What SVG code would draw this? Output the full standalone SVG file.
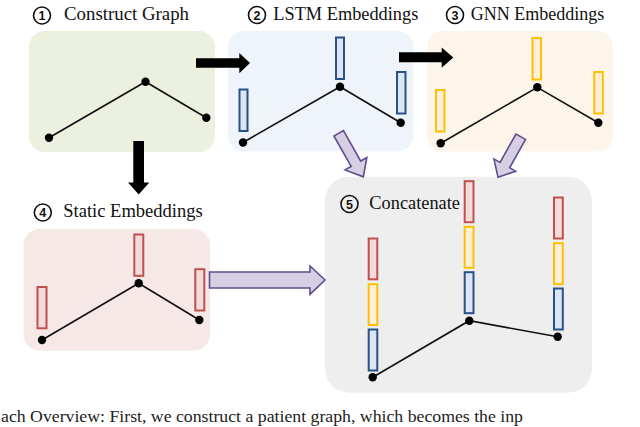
<svg xmlns="http://www.w3.org/2000/svg" width="640" height="427" viewBox="0 0 640 427">
<style>
.lbl{font-family:"Liberation Serif","Times New Roman",serif;font-size:18px;fill:#111}
.num{font-family:"Liberation Sans",Arial,sans-serif;font-size:12.5px;font-weight:bold;fill:#111;text-anchor:middle}
.circ{fill:none;stroke:#111;stroke-width:1.6}
.edge{stroke:#111;stroke-width:1.6;fill:none}
.node{fill:#000}
.red{fill:#f2dcdb;stroke:#c0504d;stroke-width:2}
.yel{fill:#fdefdc;stroke:#ffc000;stroke-width:2}
.blu{fill:#dce6f2;stroke:#2a5088;stroke-width:2}
.blk{fill:#000}
.pur{fill:#d6cfe3;stroke:#5e4c8c;stroke-width:1.6;stroke-linejoin:miter}
.cap{font-family:"Liberation Serif","Times New Roman",serif;font-size:16px;fill:#222}
</style>
<defs>
<path id="parrow" d="M0,-5.5 L35,-5.5 L35,-12.5 L50,0 L35,12.5 L35,5.5 L0,5.5 Z"/>
</defs>

<g id="node1">
<rect x="29" y="31" width="186" height="121" rx="16" fill="#ebf1de"/>
<circle class="circ" cx="42" cy="15.5" r="8.5"/>
<text class="num" x="42" y="20">1</text>
<text class="lbl" x="64" y="20" textLength="125" lengthAdjust="spacingAndGlyphs">Construct Graph</text>
<polyline class="edge" points="49,137.7 145.5,81.7 206.3,117.7"/>
<circle class="node" cx="49" cy="137.7" r="4.2"/>
<circle class="node" cx="145.5" cy="81.7" r="4.2"/>
<circle class="node" cx="206.3" cy="117.7" r="4.2"/>
</g>

<g id="node2">
<rect x="228" y="31" width="185.5" height="120.5" rx="16" fill="#eff3fa"/>
<circle class="circ" cx="257" cy="15" r="8.5"/>
<text class="num" x="257" y="19.5">2</text>
<text class="lbl" x="273.3" y="20" textLength="145" lengthAdjust="spacingAndGlyphs">LSTM Embeddings</text>
<polyline class="edge" points="243,142.5 340,86.7 400.7,122.7"/>
<rect class="blu" x="239.5" y="89.5" width="8" height="41.5"/>
<rect class="blu" x="336" y="37.5" width="8" height="41.5"/>
<rect class="blu" x="397" y="72" width="8.5" height="41.5"/>
<circle class="node" cx="243" cy="142.5" r="4.2"/>
<circle class="node" cx="340" cy="86.7" r="4.2"/>
<circle class="node" cx="400.7" cy="122.7" r="4.2"/>
</g>

<g id="node3">
<rect x="427" y="31" width="186" height="120.5" rx="16" fill="#fdf4ea"/>
<circle class="circ" cx="455" cy="15" r="8.5"/>
<text class="num" x="455" y="19.5">3</text>
<text class="lbl" x="470.7" y="20" textLength="133.6" lengthAdjust="spacingAndGlyphs">GNN Embeddings</text>
<polyline class="edge" points="440.7,143.3 537.3,87.3 598.3,122.7"/>
<rect class="yel" x="436" y="90" width="8.5" height="41.5"/>
<rect class="yel" x="532.5" y="38" width="8.5" height="41.5"/>
<rect class="yel" x="594.3" y="72" width="8.5" height="41.5"/>
<circle class="node" cx="440.7" cy="143.3" r="4.2"/>
<circle class="node" cx="537.3" cy="87.3" r="4.2"/>
<circle class="node" cx="598.3" cy="122.7" r="4.2"/>
</g>

<g id="node4">
<rect x="23.5" y="229" width="186.5" height="121.5" rx="16" fill="#f7e8e8"/>
<circle class="circ" cx="42.8" cy="212.5" r="8.5"/>
<text class="num" x="42.8" y="217">4</text>
<text class="lbl" x="63.3" y="217.3" textLength="139.4" lengthAdjust="spacingAndGlyphs">Static Embeddings</text>
<polyline class="edge" points="42,340 138.7,283.3 199.3,320"/>
<rect class="red" x="37.5" y="287" width="9" height="41.3"/>
<rect class="red" x="134.3" y="234.5" width="9" height="41.3"/>
<rect class="red" x="195.3" y="269.2" width="9" height="41.3"/>
<circle class="node" cx="42" cy="340" r="4.2"/>
<circle class="node" cx="138.7" cy="283.3" r="4.2"/>
<circle class="node" cx="199.3" cy="320" r="4.2"/>
</g>

<g id="node5">
<rect x="325" y="176.7" width="267" height="216" rx="24" fill="#eeeeee"/>
<circle class="circ" cx="349.5" cy="204" r="8.5"/>
<text class="num" x="349.5" y="208.5">5</text>
<text class="lbl" x="369.3" y="209.3" textLength="90.7" lengthAdjust="spacingAndGlyphs">Concatenate</text>
<polyline class="edge" points="372.7,377.3 469.3,320.7 557.7,336.7"/>
<rect class="red" x="368.7" y="238.5" width="8.6" height="40.8"/>
<rect class="yel" x="368.7" y="284.2" width="8.6" height="40.8"/>
<rect class="blu" x="368.7" y="329.5" width="8.6" height="41"/>
<rect class="red" x="464.7" y="181.2" width="8.8" height="41"/>
<rect class="yel" x="464.7" y="226.8" width="8.8" height="41"/>
<rect class="blu" x="464.7" y="272.2" width="8.8" height="41"/>
<rect class="red" x="554" y="197.5" width="8.8" height="41"/>
<rect class="yel" x="554" y="243.2" width="8.8" height="41"/>
<rect class="blu" x="554" y="288.5" width="8.8" height="41"/>
<circle class="node" cx="372.7" cy="377.3" r="4.2"/>
<circle class="node" cx="469.3" cy="320.7" r="4.2"/>
<circle class="node" cx="557.7" cy="336.7" r="4.2"/>
</g>

<g id="connectors">
<path class="blk" d="M196,58.3 L239.3,58.3 L239.3,53 L250,63 L239.3,73.3 L239.3,67.7 L196,67.7 Z"/>
<path class="blk" d="M399,52.3 L441.7,52.3 L441.7,47.5 L453.3,57.5 L441.7,67.7 L441.7,62.3 L399,62.3 Z"/>
<path class="blk" d="M133.3,141 L144,141 L144,182.5 L149.3,182.5 L138.7,194.5 L128,182.5 L133.3,182.5 Z"/>
<path class="pur" d="M209.5,272 L310,272 L310,266 L325,280 L310,294.3 L310,288 L209.5,288 Z"/>
<use href="#parrow" class="pur" transform="translate(338.7,133.3) rotate(60.5)"/>
<use href="#parrow" class="pur" transform="translate(520.8,136.7) rotate(119.4) scale(0.93,1)"/>
</g>

<text class="cap" x="1" y="422" textLength="522" lengthAdjust="spacingAndGlyphs">ach Overview: First, we construct a patient graph, which becomes the inp</text>
</svg>
